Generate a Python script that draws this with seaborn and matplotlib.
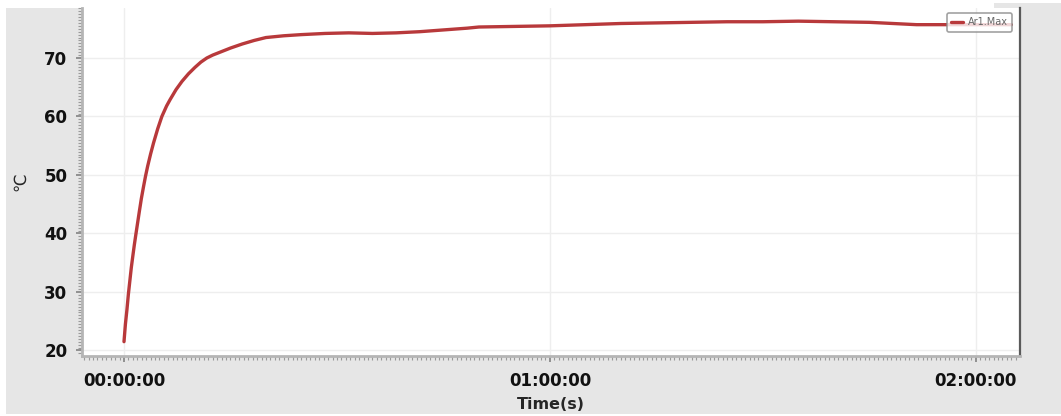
import matplotlib
matplotlib.use("Agg")
import matplotlib.pyplot as plt
from matplotlib.patches import Rectangle
from matplotlib.ticker import FixedLocator, MultipleLocator, FuncFormatter
import seaborn as sns
import pandas as pd

# Elapsed time (s) and channel Ar1.Max temperature (°C)
time_s = [0, 12, 25, 37, 50, 62, 75, 87, 100, 115, 130, 147, 165, 182, 200,
          225, 250, 285, 320, 360, 390, 440, 490, 545, 600, 650, 700, 750,
          800, 900, 1000, 1100, 1200, 1350, 1500, 1700, 1900, 2100, 2300,
          2500, 2700, 2900, 3000, 3300, 3600, 3900, 4200, 4500, 4800, 5100,
          5400, 5700, 6000, 6300, 6500, 6700, 7000, 7300, 7500]
temp_c = [21.5, 24.5, 27.0, 29.6, 32.0, 34.2, 36.2, 38.0, 39.8, 41.8, 43.8,
          46.0, 48.0, 49.8, 51.5, 53.6, 55.5, 57.9, 60.0, 61.8, 62.9, 64.6,
          66.0, 67.3, 68.4, 69.3, 70.0, 70.5, 70.9, 71.7, 72.4, 73.0, 73.5,
          73.8, 74.0, 74.2, 74.3, 74.2, 74.3, 74.5, 74.8, 75.1, 75.3, 75.4,
          75.5, 75.7, 75.9, 76.0, 76.1, 76.2, 76.2, 76.3, 76.2, 76.1, 75.9,
          75.7, 75.7, 75.7, 75.7]
series_name = "Ar1.Max"

x_ticks = [0, 3600, 7200]
y_ticks = [20, 30, 40, 50, 60, 70]

df = pd.DataFrame({"t": time_s, "v": temp_c, "series": series_name})

sns.set_style("white")
plt.rcParams["font.family"] = ["DejaVu Sans"]

W, H = 1061, 416
fig = plt.figure(figsize=(W / 100, H / 100), dpi=100, facecolor="white")

# grey panel behind the chart
fig.add_artist(Rectangle((6 / W, 2 / H), 1 - 6 / W, (414 - 8) / H,
                         transform=fig.transFigure, facecolor="#e6e6e6",
                         edgecolor="none", zorder=-10))
fig.add_artist(Rectangle((994 / W, 1 - 10 / H), 1 - 994 / W, 7 / H,
                         transform=fig.transFigure, facecolor="#e6e6e6",
                         edgecolor="none", zorder=-10))

left, right, top, bottom = 82, 1020, 8, 356
ax = fig.add_axes([left / W, 1 - bottom / H, (right - left) / W, (bottom - top) / H])
ax.set_facecolor("white")

sns.lineplot(data=df, x="t", y="v", hue="series", palette=["#b8393b"],
             linewidth=2.4, ax=ax, zorder=3)

ax.set_xlim(-355, 7574)
ax.set_ylim(19.05, 78.55)

ax.xaxis.set_major_locator(FixedLocator(x_ticks))
ax.xaxis.set_minor_locator(MultipleLocator(37.5))
ax.yaxis.set_major_locator(FixedLocator(y_ticks))
ax.yaxis.set_minor_locator(MultipleLocator(0.5))


def hms(v, pos=None):
    v = int(round(v))
    return f"{v // 3600:02d}:{(v % 3600) // 60:02d}:{v % 60:02d}"


ax.xaxis.set_major_formatter(FuncFormatter(hms))

ax.grid(True, which="major", color="#eeeeee", linewidth=1.0, zorder=0)

ax.spines["top"].set_visible(False)
ax.spines["left"].set_color("#b5b5b5")
ax.spines["left"].set_linewidth(2.0)
ax.spines["bottom"].set_color("#b5b5b5")
ax.spines["bottom"].set_linewidth(2.0)
ax.spines["right"].set_color("#5a5a5a")
ax.spines["right"].set_linewidth(1.6)

# ruler-style ticks on the left and bottom axes
ax.tick_params(axis="y", which="both", left=True, right=False)
ax.tick_params(axis="x", which="both", bottom=True, top=False)
ax.tick_params(axis="both", which="major", direction="out", length=4.5,
               width=1.3, color="#8a8a8a", labelsize=12, pad=6)
ax.tick_params(axis="both", which="minor", direction="out", length=3,
               width=0.8, color="#9a9a9a")
ax.tick_params(axis="x", which="major", pad=7)
for lab in ax.get_xticklabels() + ax.get_yticklabels():
    lab.set_fontweight("bold")
    lab.set_color("#111111")

ax.set_xlabel("Time(s)", fontsize=11.5, fontweight="bold", labelpad=5)
ax.set_ylabel("℃", fontsize=12, labelpad=11)

leg = ax.legend(loc="upper right",
                bbox_to_anchor=((1012 - left) / (right - left), 1 - 5 / (bottom - top)),
                borderaxespad=0, fontsize=7, frameon=True, fancybox=True,
                handlelength=1.2, handletextpad=0.5, borderpad=0.45,
                title=None)
leg.get_frame().set_edgecolor("#8a8a8a")
leg.get_frame().set_linewidth(1.2)
for t in leg.get_texts():
    t.set_color("#666666")

fig.savefig("out.png", dpi=100, facecolor="white")
